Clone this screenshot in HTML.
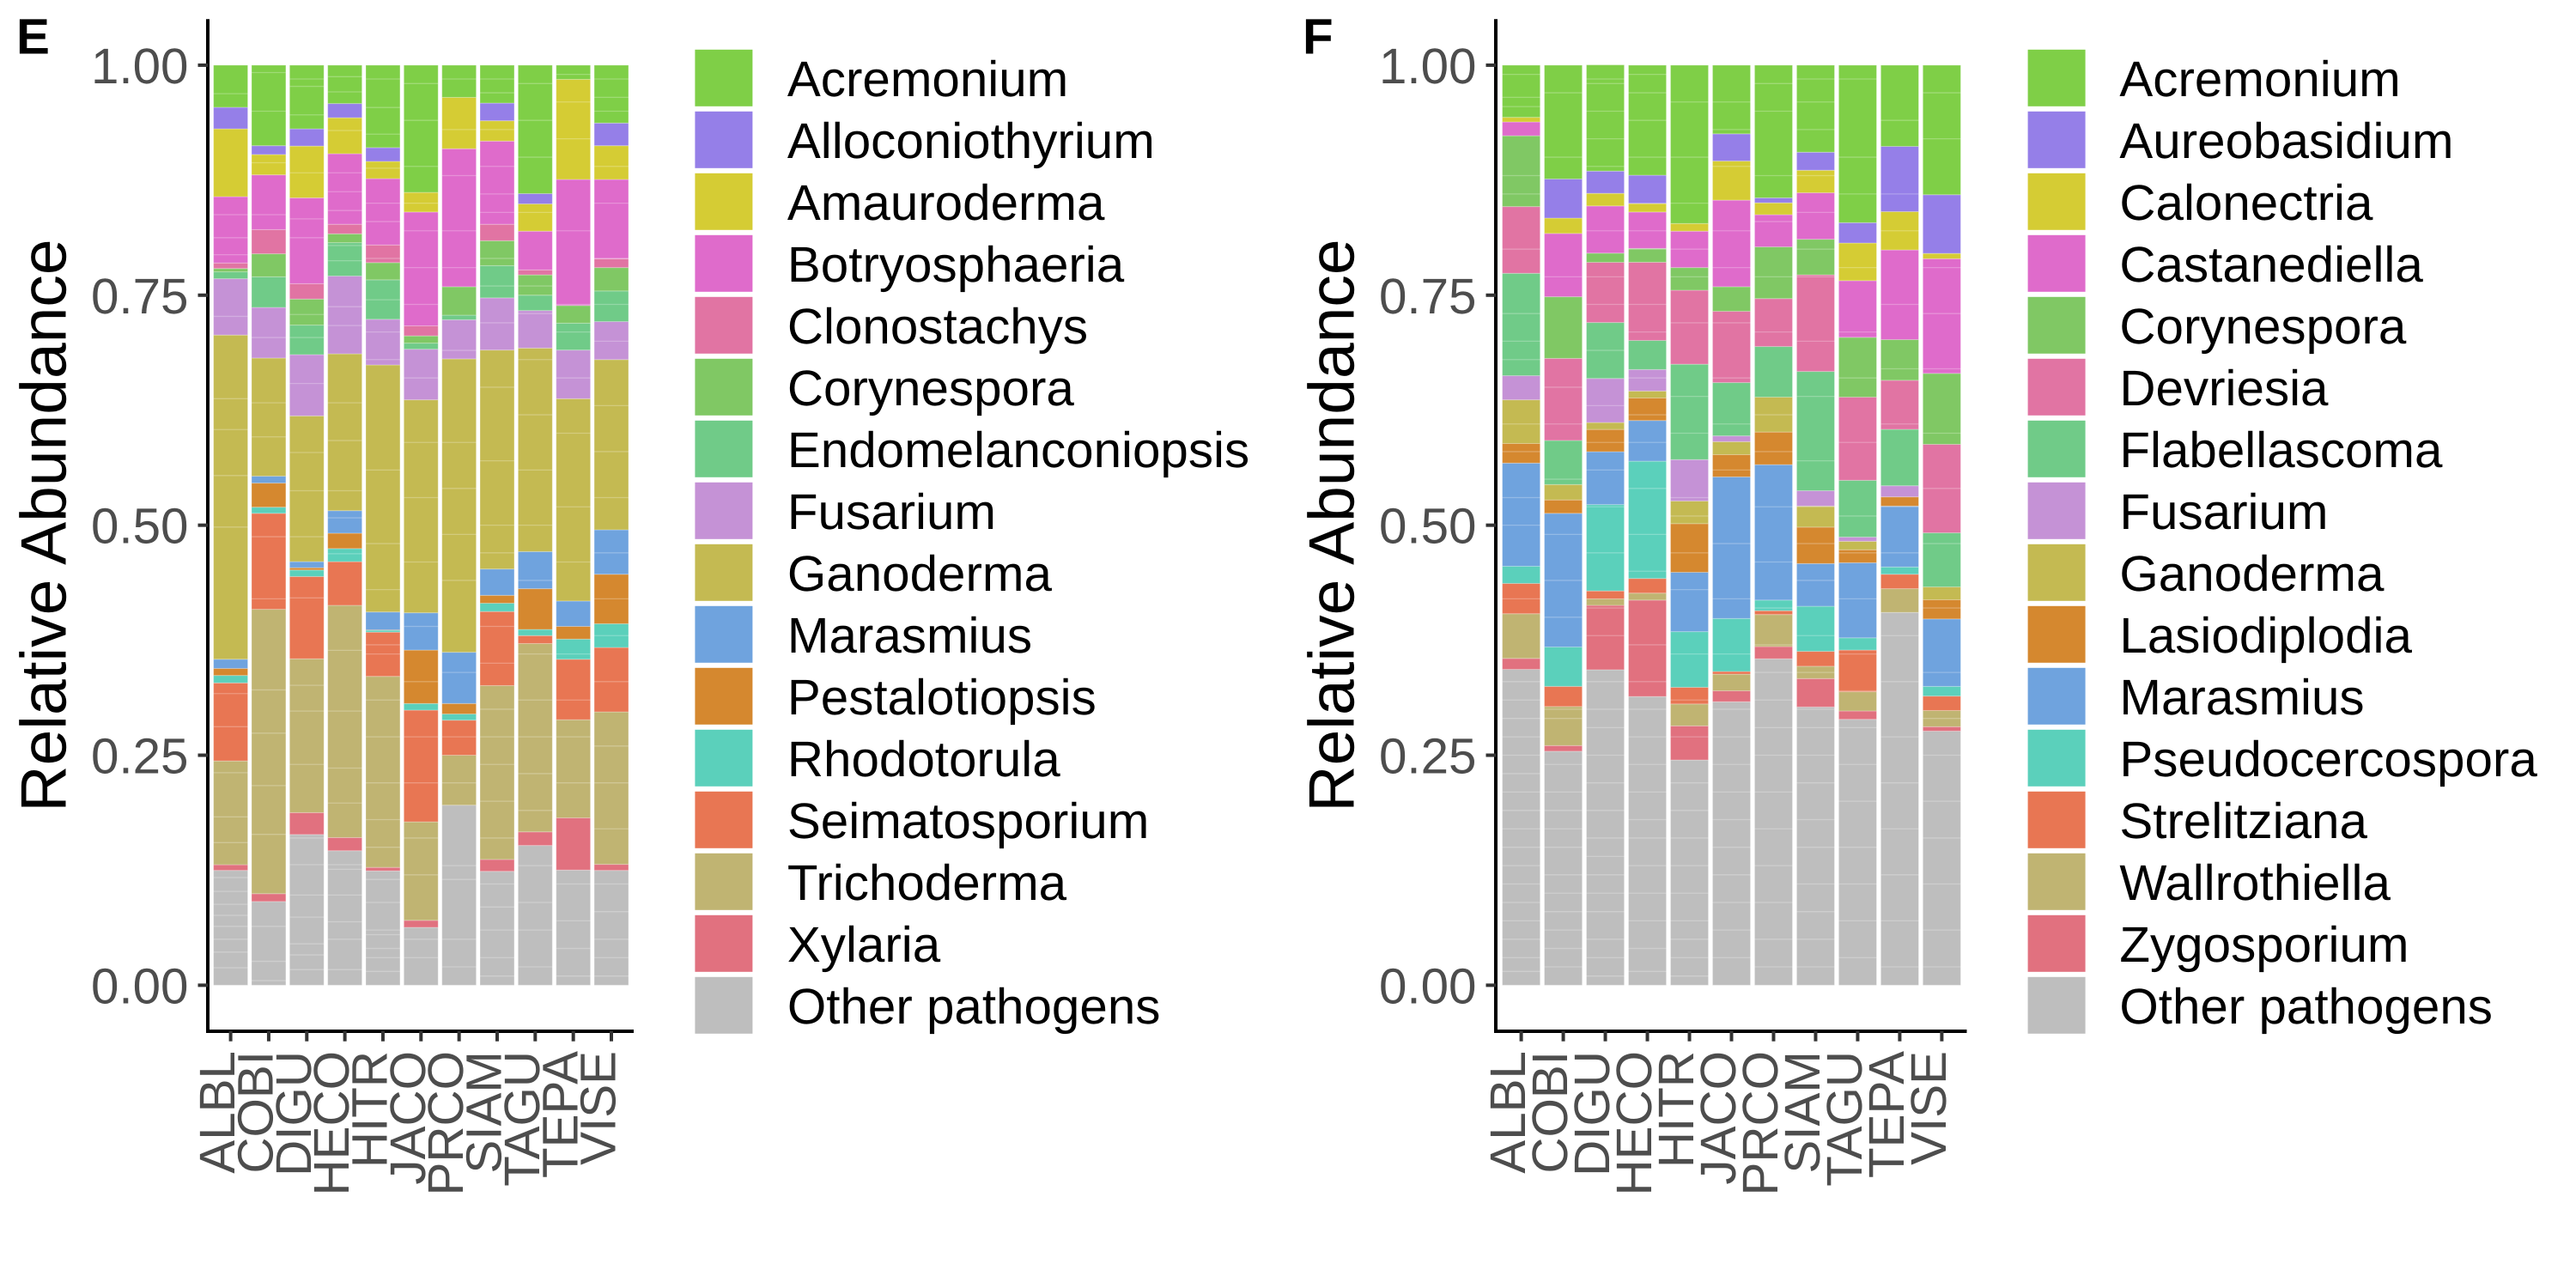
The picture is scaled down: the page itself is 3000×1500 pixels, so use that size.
<!DOCTYPE html>
<html lang="en">
<head>
<meta charset="utf-8">
<title>Relative abundance of pathogen genera, panels E and F</title>
<style>
html,body{margin:0;padding:0;background:#fff;width:3000px;height:1500px;overflow:hidden}
svg{display:block}
text{font-family:"Liberation Sans",Arial,sans-serif;text-rendering:geometricPrecision}
</style>
</head>
<body>
<svg id="chart" xmlns="http://www.w3.org/2000/svg" width="3000" height="1500" viewBox="0 0 3000 1500">
  <rect x="0" y="0" width="3000" height="1500" fill="#ffffff"/>
  <text x="19" y="62.5" font-size="58.33" font-weight="700" fill="#000">E</text>
  <text x="1517" y="62.5" font-size="58.33" font-weight="700" fill="#000">F</text>
  <text transform="translate(76.5 612) rotate(-90)" text-anchor="middle" font-size="75" fill="#000">Relative Abundance</text>
  <text transform="translate(1576.5 612) rotate(-90)" text-anchor="middle" font-size="75" fill="#000">Relative Abundance</text>
</svg>
<script>
const hosts = ["ALBL","COBI","DIGU","HECO","HITR","JACO","PRCO","SIAM","TAGU","TEPA","VISE"];
const yTickValues = [0,0.25,0.5,0.75,1];
const yTickLabels = ["0.00","0.25","0.50","0.75","1.00"];
const colorsE = ["#7FCF47","#957FE8","#D5CC34","#DF6BCB","#E174A3","#80C864","#70CB88","#C592D6","#C4BA52","#6FA3DE","#D5882F","#5BD0BB","#E87653","#C0B472","#E1717F","#BEBEBE"];
const colorsF = ["#7FCF47","#957FE8","#D5CC34","#DF6BCB","#80C864","#E174A3","#70CB88","#C592D6","#C4BA52","#D5882F","#6FA3DE","#5BD0BB","#E87653","#C0B472","#E1717F","#BEBEBE"];

const genusNamesE = ["Acremonium","Alloconiothyrium","Amauroderma","Botryosphaeria","Clonostachys","Corynespora","Endomelanconiopsis","Fusarium","Ganoderma","Marasmius","Pestalotiopsis","Rhodotorula","Seimatosporium","Trichoderma","Xylaria","Other pathogens"];
const genusNamesF = ["Acremonium","Aureobasidium","Calonectria","Castanediella","Corynespora","Devriesia","Flabellascoma","Fusarium","Ganoderma","Lasiodiplodia","Marasmius","Pseudocercospora","Strelitziana","Wallrothiella","Zygosporium","Other pathogens"];

const eAcremonium = [.0458,.0875,.0692,.0417,.0896,.1383,.035,.0412,.1396,.0154,.0629];
const eAlloconiothyrium = [.0234,.0096,.0187,.0154,.015,0,0,.0192,.0112,0,.0246];
const eAmauroderma = [.0737,.0221,.0563,.0391,.0187,.0213,.0558,.0221,.0296,.1088,.0367];
const eBotryosphaeria = [.0721,.0595,.0933,.0767,.0721,.1237,.15,.0904,.0421,.137,.0862];
const eClonostachys = [.006,.0263,.0167,.0104,.0192,.0109,0,.0179,.0054,0,.0096];
const eCorynespora = [.0036,.025,.0283,.0096,.0187,.0079,.0309,.0271,.0221,.0192,.0254];
const eEndomelanconiopsis = [.0075,.0333,.0321,.0363,.0429,.0066,.005,.035,.0167,.0292,.0333];
const eFusarium = [.0612,.055,.0666,.0845,.0496,.055,.0425,.0567,.0408,.0529,.0413];
const eGanoderma = [.3524,.1284,.1584,.1705,.2685,.2315,.3189,.238,.2212,.2199,.185];
const eMarasmius = [.01,.0075,.0066,.0245,.0195,.0405,.0557,.0286,.0403,.0276,.0483];
const ePestalotiopsis = [.0076,.0262,.0025,.0167,.0004,.0581,.0114,.0086,.0443,.0138,.0538];
const eRhodotorula = [.0081,.0067,.0071,.0142,.002,.0072,.0067,.009,.0067,.0219,.0258];
const eSeimatosporium = [.0848,.1043,.0894,.0475,.0481,.1214,.0381,.0805,.0086,.0657,.07];
const eTrichoderma = [.1128,.3091,.1672,.2524,.2076,.1071,.0543,.189,.2047,.1067,.1657];
const eXylaria = [.0062,.0085,.0238,.0143,.0038,.0076,0,.0129,.0148,.0567,.0066];
const eOther = [.1248,.091,.1638,.1462,.1243,.0629,.1957,.1238,.1519,.1252,.1248];

const fAcremonium = [.0567,.1237,.1154,.1196,.1721,.0746,.1442,.0946,.1712,.0883,.1408];
const fAureobasidium = [0,.0425,.0242,.0308,0,.0296,.0054,.0196,.0221,.0709,.0638];
const fCalonectria = [.005,.0167,.0137,.0092,.0083,.0425,.0129,.0245,.0409,.0416,.0058];
const fCastanediella = [.015,.0688,.0513,.0396,.0396,.0941,.035,.0505,.0616,.0975,.1246];
const fCorynespora = [.077,.067,.01,.015,.0246,.0267,.0562,.0387,.065,.0442,.0771];
const fDevriesia = [.0725,.0892,.0654,.085,.0804,.0775,.0521,.105,.0904,.0533,.0962];
const fFlabellascoma = [.1113,.0479,.0608,.0316,.1037,.0579,.055,.1296,.0617,.0613,.0588];
const fFusarium = [.0262,0,.0479,.0234,.045,.0063,0,.0167,.0046,.0121,0];
const fGanoderma = [.0475,.0167,.0075,.0075,.0246,.0141,.0379,.0229,.0092,0,.0139];
const fLasiodiplodia = [.0213,.0146,.0242,.0245,.0529,.0242,.0355,.0396,.0141,.01,.0209];
const fMarasmius = [.1121,.1453,.0575,.0442,.0645,.1539,.1472,.0464,.0816,.0662,.0733];
const fPseudocercospora = [.0187,.0428,.0938,.1275,.0605,.0576,.0115,.049,.0133,.0079,.0105];
const fStrelitziana = [.0329,.0219,.0086,.0159,.0181,.0029,.0042,.0162,.0453,.0157,.0157];
const fWallrothiella = [.0486,.0424,.0071,.0076,.0238,.0181,.0348,.0134,.0209,.0258,.0176];
const fZygosporium = [.0119,.0062,.07,.1048,.0371,.0119,.0133,.0309,.0091,0,.0048];
const fOther = [.3433,.2543,.3429,.3138,.2448,.3081,.3548,.3024,.289,.4052,.2762];

const eDivisions = [
 [.969,.8375,.8125,.794,.727,.6375,.604,.554,.498,.317,.281,.231,.183,.155,.117,.102,.088,.076,.064,.05,.036,.019],
 [.992,.95,.894,.8375,.704,.633,.596,.4875,.42,.321,.274,.217,.164,.064,.026,.005],
 [.985,.977,.946,.883,.833,.8125,.729,.704,.654,.579,.5375,.4875,.421,.326,.298,.24,.16,.131,.098,.074,.045,.033,.017],
 [.9875,.971,.929,.883,.8625,.842,.804,.7875,.7375,.717,.633,.592,.5375,.508,.469,.364,.298,.236,.198,.131,.126,.098,.069,.05,.017],
 [.985,.954,.925,.888,.85,.83,.79,.745,.71,.68,.56,.48,.43,.37,.36,.31,.27,.22,.18,.15,.115,.09,.06,.055,.04,.03,.015],
 [.98,.94,.89,.85,.82,.78,.74,.66,.59,.53,.46,.39,.33,.27,.22,.16,.12,.05,.03],
 [.985,.93,.88,.82,.78,.69,.59,.54,.49,.44,.34,.27,.22,.13,.115,.05,.02],
 [.985,.97,.93,.89,.86,.84,.79,.76,.72,.65,.57,.5,.47,.39,.35,.3,.27,.24,.2,.16,.11,.085,.06,.03,.01],
 [.98,.94,.9,.84,.76,.73,.68,.62,.56,.5,.44,.36,.31,.27,.23,.19,.13,.09,.06,.02],
 [.99,.96,.92,.82,.74,.71,.66,.6,.52,.46,.36,.31,.27,.22,.11,.07,.04,.01],
 [.985,.965,.95,.89,.85,.79,.74,.7,.63,.58,.53,.47,.42,.38,.33,.26,.22,.17,.11,.08,.05,.03,.01]
];
const fDivisions = [
 [.99,.965,.955,.88,.86,.8,.73,.7,.68,.61,.58,.53,.5,.42,.33,.31,.29,.27,.25,.23,.21,.19,.17,.15,.13,.11,.09,.07,.05,.03,.015],
 [.97,.9,.77,.65,.61,.55,.49,.44,.4,.3,.29,.24,.21,.19,.17,.15,.12,.1,.08,.06,.04,.02],
 [.985,.98,.95,.92,.89,.82,.77,.74,.69,.63,.59,.56,.52,.47,.41,.38,.33,.3,.28,.25,.22,.19,.16,.14,.12,.1,.08,.05,.03,.01],
 [.99,.97,.94,.9,.85,.82,.8,.74,.71,.66,.62,.59,.54,.49,.45,.37,.33,.3,.27,.24,.21,.18,.16,.13,.1,.07,.04,.015],
 [.96,.9,.85,.8,.77,.72,.64,.6,.53,.51,.47,.43,.36,.31,.27,.22,.19,.16,.13,.1,.07,.05,.03,.01],
 [.96,.93,.89,.82,.78,.72,.66,.61,.56,.48,.42,.36,.3,.27,.24,.21,.18,.15,.12,.09,.06,.03],
 [.98,.95,.88,.83,.77,.71,.62,.58,.52,.46,.41,.37,.34,.31,.28,.25,.21,.17,.13,.09,.05,.02],
 [.985,.96,.93,.88,.84,.8,.77,.7,.64,.57,.52,.48,.44,.38,.34,.3,.28,.25,.22,.18,.15,.11,.08,.05,.02],
 [.985,.9,.86,.78,.71,.66,.59,.51,.47,.42,.36,.32,.28,.24,.2,.15,.11,.07,.03],
 [.94,.86,.82,.74,.67,.61,.52,.47,.38,.33,.27,.22,.17,.12,.07,.02],
 [.97,.92,.78,.73,.67,.6,.54,.48,.41,.34,.29,.25,.2,.16,.11,.06,.02]
];

const seriesE = [eAcremonium,eAlloconiothyrium,eAmauroderma,eBotryosphaeria,eClonostachys,eCorynespora,eEndomelanconiopsis,eFusarium,eGanoderma,eMarasmius,ePestalotiopsis,eRhodotorula,eSeimatosporium,eTrichoderma,eXylaria,eOther];
const seriesF = [fAcremonium,fAureobasidium,fCalonectria,fCastanediella,fCorynespora,fDevriesia,fFlabellascoma,fFusarium,fGanoderma,fLasiodiplodia,fMarasmius,fPseudocercospora,fStrelitziana,fWallrothiella,fZygosporium,fOther];

const svg = document.getElementById('chart');
const NS = 'http://www.w3.org/2000/svg';
function make(tag, props, parent){
  const node = document.createElementNS(NS, tag);
  for (const k in props) node.setAttribute(k, props[k]);
  parent.appendChild(node);
  return node;
}
function slug(s){ return s.toLowerCase().replace(/\s+/g,'-'); }
function yScale(v){ return 1147.4 - v * 1071.5; }

function drawPanel(key, axisX, firstCenter, step, axisEnd, keyX, textX, series, names, colors, divisions){
  const xScale = i => firstCenter + i * step;
  const barW = step * 0.9;
  const g = make('g', {}, svg);
  
  

  hosts.forEach((host, i) => {
    const barGroup = make('g', {}, g);
    
    
    let cumulative = 0;
    for (let s = series.length - 1; s >= 0; s--) {
      const value = series[s][i];
      if (!(value > 0)) continue;
      const top = yScale(cumulative + value);
      const bottom = yScale(cumulative);
      const seg = make('rect', {x: xScale(i) - barW / 2, y: top, width: barW, height: bottom - top, fill: colors[s], stroke: '#ffffff', 'stroke-opacity': 0.28, 'stroke-width': 1}, barGroup);
      
      
      cumulative += value;
    }
    divisions[i].forEach(level => {
      const line = make('line', {x1: xScale(i) - barW / 2, x2: xScale(i) + barW / 2, y1: yScale(level), y2: yScale(level), stroke: '#ffffff', 'stroke-opacity': 0.25, 'stroke-width': 1.3}, barGroup);
      
      
    });
  });

  const yAxis = make('line', {x1: axisX, x2: axisX, y1: 22.3, y2: 1203, stroke: '#000', 'stroke-width': 4}, g);
  
  
  const xAxis = make('line', {x1: axisX - 2, x2: axisEnd, y1: 1201, y2: 1201, stroke: '#000', 'stroke-width': 4}, g);
  
  

  yTickValues.forEach((v, i) => {
    const tick = make('line', {x1: axisX - 11.5, x2: axisX, y1: yScale(v), y2: yScale(v), stroke: '#333', 'stroke-width': 4}, g);
    
    
    const label = make('text', {x: axisX - 22.5, y: yScale(v) + 21, 'text-anchor': 'end', 'font-size': 58.33, fill: '#4D4D4D'}, g);
    label.textContent = yTickLabels[i];
    
    
  });

  hosts.forEach((host, i) => {
    const tick = make('line', {x1: xScale(i), x2: xScale(i), y1: 1201, y2: 1212.7, stroke: '#333', 'stroke-width': 4}, g);
    
    
    const label = make('text', {transform: 'translate(' + (xScale(i) + 4.6) + ' 1224) rotate(-90)', 'text-anchor': 'end', 'font-size': 58.33, fill: '#4D4D4D'}, g);
    label.textContent = host;
    
    
  });

  names.forEach((name, i) => {
    const entry = make('g', {}, g);
    
    
    const top = 57.8 + i * 72;
    const swatch = make('rect', {x: keyX, y: top, width: 67, height: 66, fill: colors[i]}, entry);
    
    
    const label = make('text', {x: textX, y: top + 54, 'font-size': 58.33, fill: '#000'}, entry);
    label.textContent = name;
    
    
  });
}

drawPanel('e', 242, 268.6, 44.34, 738, 809.4, 916.9, seriesE, genusNamesE, colorsE, eDivisions);
drawPanel('f', 1742, 1771.6, 48.98, 2290.5, 2361.6, 2468.4, seriesF, genusNamesF, colorsF, fDivisions);
</script>
</body>
</html>
